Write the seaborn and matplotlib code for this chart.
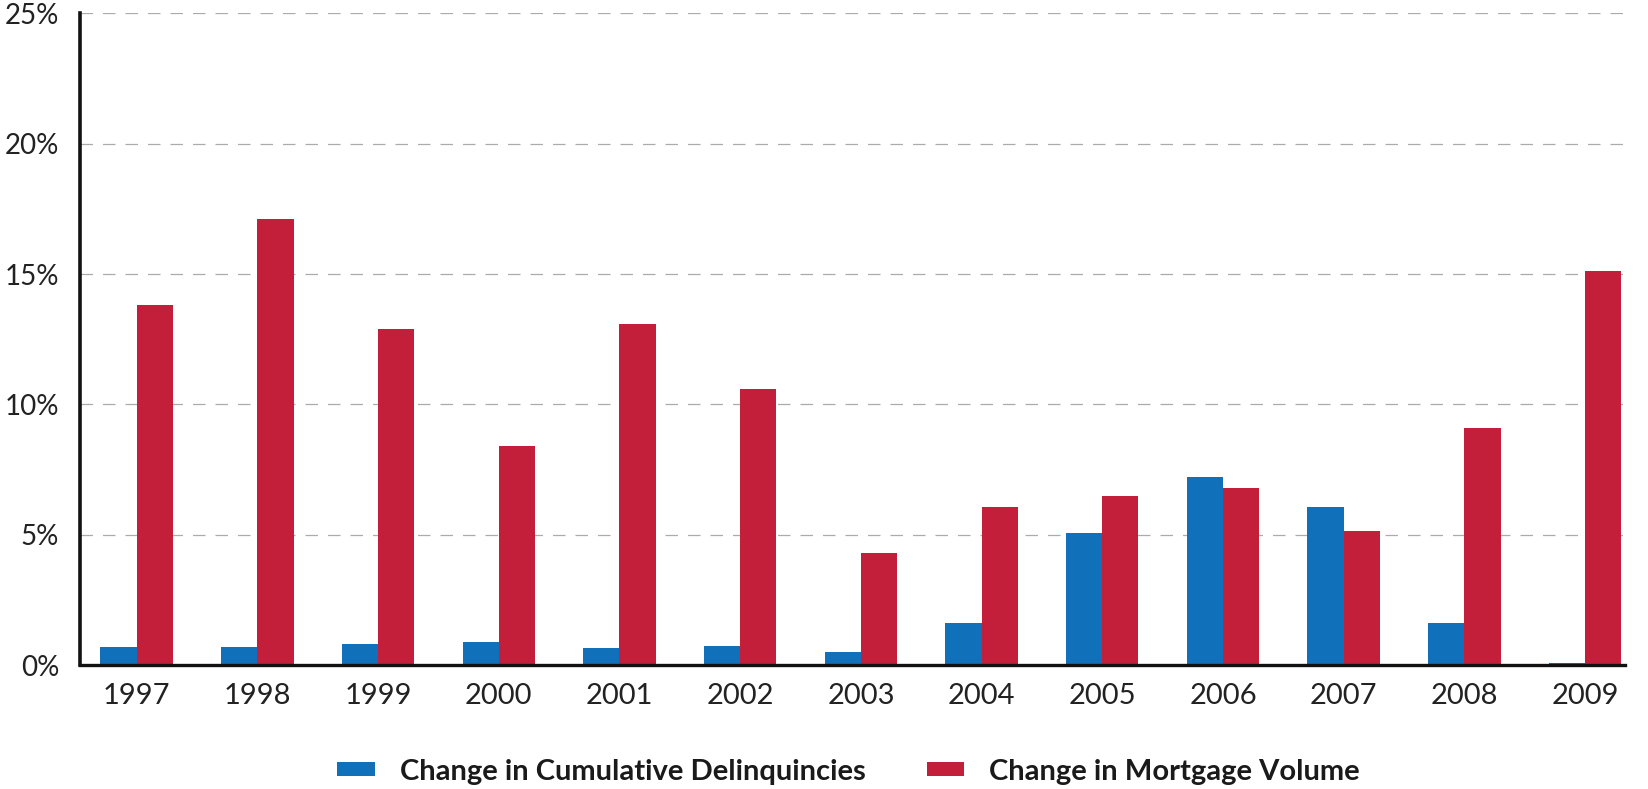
import matplotlib
matplotlib.use("Agg")
import matplotlib.pyplot as plt
import seaborn as sns
import pandas as pd

years = ["1997", "1998", "1999", "2000", "2001", "2002", "2003",
         "2004", "2005", "2006", "2007", "2008", "2009"]
delinquencies = [0.7, 0.7, 0.8, 0.9, 0.65, 0.75, 0.5, 1.6, 5.05, 7.2, 6.05, 1.6, 0.1]
mortgage_volume = [13.8, 17.1, 12.9, 8.4, 13.1, 10.6, 4.3, 6.05, 6.5, 6.8, 5.15, 9.1, 15.1]
series_names = ["Change in Cumulative Delinquincies", "Change in Mortgage Volume"]
y_ticks = [0, 5, 10, 15, 20, 25]

df = pd.DataFrame({
    "year": years * 2,
    "value": delinquencies + mortgage_volume,
    "series": [series_names[0]] * len(years) + [series_names[1]] * len(years),
})

sns.set_theme(style="white")
plt.rcParams["font.family"] = ["Lato", "DejaVu Sans"]

fig = plt.figure(figsize=(16.48, 7.89), dpi=100)
ax = fig.add_axes([0.0485, 0.157, 0.9375, 0.826])

palette = {series_names[0]: "#1170ba", series_names[1]: "#c41f3a"}
sns.barplot(data=df, x="year", y="value", hue="series", palette=palette,
            width=0.6, gap=0, saturation=1, edgecolor="none", linewidth=0,
            ax=ax, zorder=3, legend=True)

ax.set_xlim(-0.47, 12.33)
ax.set_ylim(0, 25)
ax.set_yticks(y_ticks)
ax.set_yticklabels([f"{t}%" for t in y_ticks])
ax.set_xlabel("")
ax.set_ylabel("")

for t in y_ticks[1:]:
    ax.axhline(t, color="#ababab", linewidth=0.9, linestyle=(0, (10, 8)), zorder=1)

for side in ["top", "right"]:
    ax.spines[side].set_visible(False)
ax.spines["left"].set_color("#111111")
ax.spines["left"].set_linewidth(2.6)
ax.spines["bottom"].set_color("#111111")
ax.spines["bottom"].set_linewidth(2.4)
ax.spines["bottom"].set_zorder(4)

ax.tick_params(axis="both", length=0, labelsize=21, colors="#222222")
ax.tick_params(axis="y", labelsize=20, pad=15)
ax.tick_params(axis="x", pad=13)

handles, labels = ax.get_legend_handles_labels()
ax.get_legend().remove()
leg = fig.legend(handles, labels, loc="center", bbox_to_anchor=(0.515, 0.022),
                 ncol=2, frameon=False, handlelength=1.28, handleheight=0.38,
                 handletextpad=0.86, columnspacing=2.1,
                 prop={"family": "Lato", "weight": "bold", "size": 21})
for txt in leg.get_texts():
    txt.set_color("#1a1a1a")

fig.savefig("out.png", dpi=100)
